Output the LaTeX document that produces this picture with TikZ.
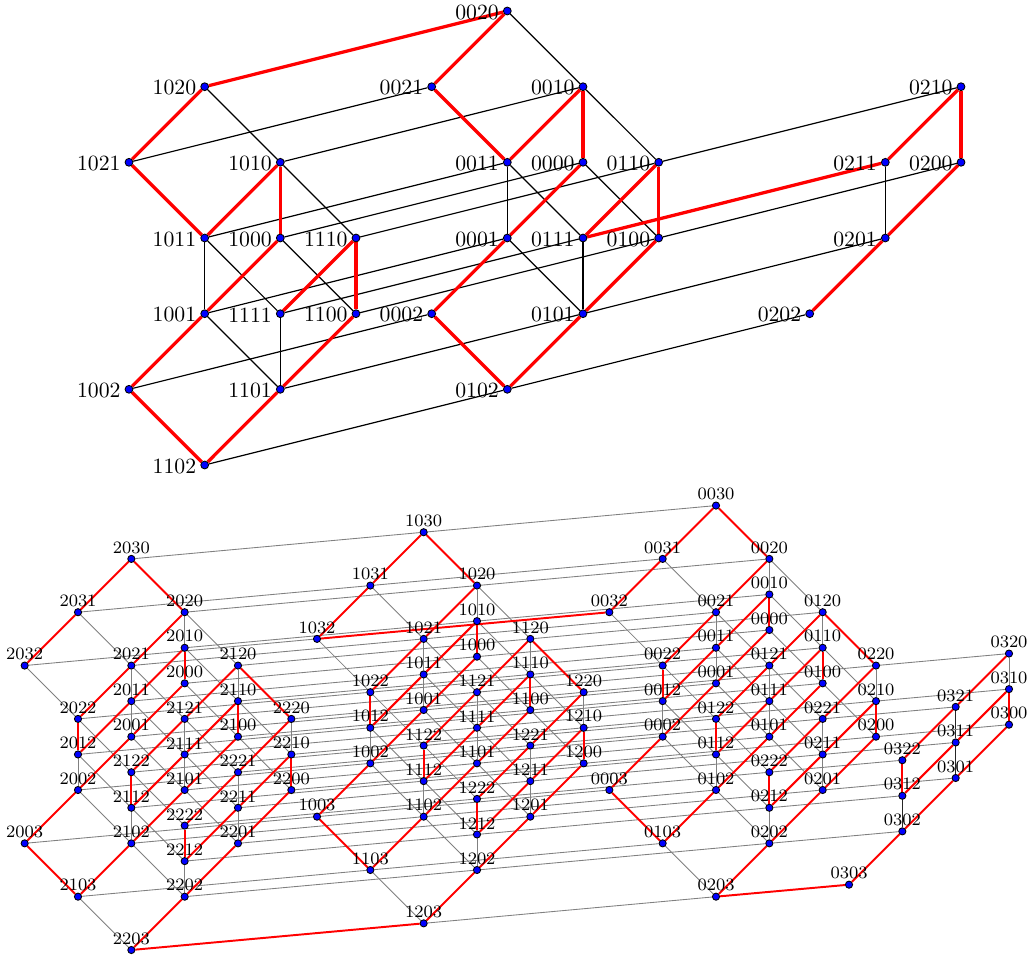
\documentclass[tikz,border=0pt]{standalone}
\usepackage{tikz}
\usetikzlibrary{backgrounds}
\tikzstyle{topnode}=[circle, draw, fill=blue, line width=0.4pt, inner sep=0pt, minimum size=3.6pt]
\tikzstyle{toplabel}=[inner sep=0pt, xshift=-1.7pt, yshift=-0.5pt]
\tikzstyle{lownode}=[circle, draw, fill=blue, line width=0.4pt, inner sep=0pt, minimum size=3.3pt]
\tikzstyle{lowlabel}=[inner sep=0pt, font=\footnotesize, yshift=0.45pt]
\tikzstyle{topedge}=[draw=black, line width=0.55pt]
\tikzstyle{topred}=[draw=red, line width=1.5pt]
\tikzstyle{lowedge}=[draw=black!50, line width=0.4pt]
\tikzstyle{lowdark}=[draw=black!85, line width=0.45pt]
\tikzstyle{lowred}=[draw=red, line width=0.9pt]
\newcommand{\topv}[3]{\node[topnode, label={[toplabel]left:#1}] (u#1) at (#2, #3) {};}
% position of a lower vertex from its four digits
\newcommand{\lowv}[4]{%
  \pgfmathsetmacro{\px}{769.33-292.33*#1+{0,53.33,106.67,239.67}[#2]+{0,0,0,-53.33}[#3]-53.33*#4}
  \pgfmathsetmacro{\py}{630+26.67*#1+{0,53.33,106.67,94.67}[#2]+{0,-35.56,-71.11,-124.44}[#3]+53.33*#4}
  \node[lownode, label={[lowlabel]above:#1#2#3#4}] (v#1#2#3#4) at (\px, \py) {};
}
\begin{document}
\begin{tikzpicture}[x=0.46pt, y=-0.46pt]
    \useasboundingbox (0, 0) rectangle (1029, 958);
    % upper diagram
    \topv{0020}{507.3}{11}
    \topv{0021}{431.7}{86.7}
    \topv{0010}{583}{86.7}
    \topv{0011}{507.3}{162.3}
    \topv{0000}{583}{162.3}
    \topv{0001}{507.3}{238}
    \topv{0002}{431.7}{313.7}
    \topv{0110}{658.7}{162.3}
    \topv{0111}{583}{238}
    \topv{0100}{658.7}{238}
    \topv{0101}{583}{313.7}
    \topv{0102}{507.3}{389.3}
    \topv{0210}{961}{86.7}
    \topv{0211}{885.3}{162.3}
    \topv{0200}{961}{162.3}
    \topv{0201}{885.3}{238}
    \topv{0202}{809.7}{313.7}
    \topv{1020}{204.7}{86.7}
    \topv{1021}{129}{162.3}
    \topv{1010}{280.3}{162.3}
    \topv{1011}{204.7}{238}
    \topv{1000}{280.3}{238}
    \topv{1001}{204.7}{313.7}
    \topv{1002}{129}{389.3}
    \topv{1110}{356}{238}
    \topv{1111}{280.3}{313.7}
    \topv{1100}{356}{313.7}
    \topv{1101}{280.3}{389.3}
    \topv{1102}{204.7}{465}
    % lower diagram
    \foreach \a/\b in {0/0,0/1,0/2,0/3,1/0,1/1,1/2,2/0,2/1,2/2}
        \foreach \c/\d in {0/0,0/1,0/2,0/3,1/0,1/1,1/2,2/0,2/1,2/2}
            {\lowv{\a}{\b}{\c}{\d}}
    \foreach \a in {0,1,2}
        \foreach \d in {0,1,2}
            {\lowv{\a}{0}{3}{\d}}
    \begin{pgfonlayer}{background}
        \foreach \s/\t in {0020/0010, 0001/0011, 0010/0110, 0000/0100, 0011/0111, 0001/0101,
                0101/0111, 0110/0210, 0100/0200, 0101/0201, 0102/0202, 0201/0211,
                1020/1010, 1001/1011, 1010/1110, 1000/1100, 1011/1111, 1001/1101, 1101/1111,
                1021/0021, 1010/0010, 1011/0011, 1000/0000, 1001/0001, 1002/0002,
                1110/0110, 1111/0111, 1100/0100, 1101/0101, 1102/0102}
            \draw[topedge] (u\s) -- (u\t);
        \foreach \s/\t in {1020/0020, 1020/1021, 1021/1011, 1011/1010, 1010/1000, 1000/1001,
                1001/1002, 1002/1102, 1102/1101, 1101/1100, 1100/1110, 1110/1111,
                0020/0021, 0021/0011, 0011/0010, 0010/0000, 0000/0001, 0001/0002,
                0002/0102, 0102/0101, 0101/0100, 0100/0110, 0110/0111, 0111/0211,
                0211/0210, 0210/0200, 0200/0201, 0201/0202}
            \draw[topred] (u\s) -- (u\t);
        % third digit
        \foreach \a/\b in {0/0,0/1,0/2,1/0,1/1,1/2,2/0,2/1,2/2}
            \foreach \s/\t in {20/10, 21/11, 11/01, 12/02}
                \draw[lowedge] (v\a\b\s) -- (v\a\b\t);
        \draw[lowedge] (v0320) -- (v0310);
        \draw[lowdark] (v0321) -- (v0311) (v0311) -- (v0301) (v0312) -- (v0302);
        \foreach \a in {0,1,2}
            \foreach \d in {1,2}
                \draw[lowedge] (v\a03\d) -- (v\a02\d);
        % second digit
        \foreach \a/\b/\e in {0/0/1,0/1/2,0/2/3,1/0/1,1/1/2,2/0/1,2/1/2}
            \foreach \s in {00,01,02,10,11,12,21,22}
                \draw[lowedge] (v\a\b\s) -- (v\a\e\s);
        \foreach \a in {0,1,2}
            \draw[lowedge] (v\a020) -- (v\a120) (v\a103) -- (v\a203);
        \draw[lowedge] (v0220) -- (v0320);
        % first digit
        \foreach \a/\e in {1/0,2/1} {
            \foreach \b in {0,1,2}
                \foreach \s in {00,01,02,10,11,12,20,21,22}
                    \draw[lowedge] (v\a\b\s) -- (v\e\b\s);
            \foreach \s in {003,103,030,031}
                \draw[lowedge] (v\a\s) -- (v\e\s);
        }
        \draw[lowedge] (v2032) -- (v1032) (v1203) -- (v0203);
        % red path
        \foreach \a/\b in {0/0,0/1,0/2,0/3,1/0,1/1,1/2,2/0,2/1,2/2} {
            \foreach \s/\t in {00/01, 01/02, 02/03, 10/11, 11/12, 20/21, 21/22, 00/10, 22/12}
                \draw[lowred] (v\a\b\s) -- (v\a\b\t);
        }
        \foreach \a in {0,1,2}
            \draw[lowred] (v\a030) -- (v\a031) (v\a031) -- (v\a032) (v\a030) -- (v\a020)
                (v\a120) -- (v\a220) (v\a003) -- (v\a103);
        \draw[lowred] (v1032) -- (v0032) (v2203) -- (v1203) (v0203) -- (v0303);
    \end{pgfonlayer}
\end{tikzpicture}
\end{document}
